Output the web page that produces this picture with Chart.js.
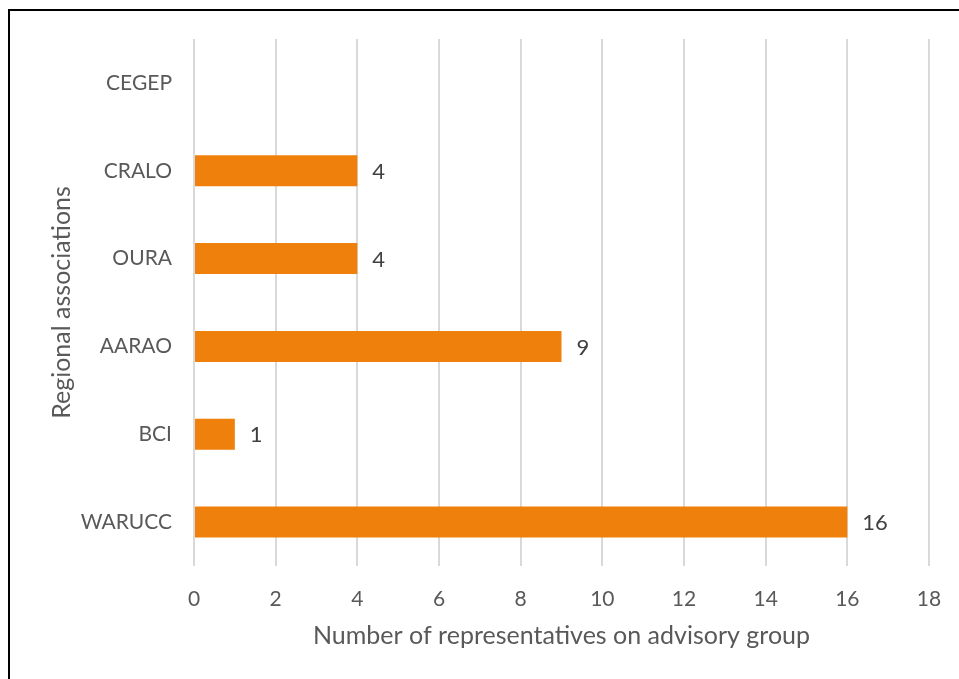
<!DOCTYPE html>
<html>
<head>
<meta charset="utf-8">
<script src="https://cdn.jsdelivr.net/npm/chart.js@4"></script>
<style>
  html, body { margin:0; padding:0; background:#fff; overflow:hidden; }
  #wrap { position:relative; width:959px; height:679px; }
  #c { position:absolute; left:0; top:0; }
  #frame { position:absolute; left:8px; top:9px; width:1000px; height:1000px;
           border-top:2px solid #000; border-left:2px solid #000; pointer-events:none; }
</style>
</head>
<body>
<div id="wrap">
  <canvas id="c" width="959" height="679"></canvas>
  <div id="frame"></div>
</div>
<script>
const categories = ["CEGEP", "CRALO", "OURA", "AARAO", "BCI", "WARUCC"];
const representatives = [null, 4, 4, 9, 1, 16];
const xTicks = [0, 2, 4, 6, 8, 10, 12, 14, 16, 18];
const xTitle = "Number of representatives on advisory group";
const yTitle = "Regional associations";

const FONT = "Lato, Calibri, Carlito, sans-serif";

const valueLabels = {
  id: 'valueLabels',
  afterDatasetsDraw(chart) {
    const ctx = chart.ctx;
    const meta = chart.getDatasetMeta(0);
    ctx.save();
    ctx.font = "22px " + FONT;
    ctx.fillStyle = "#404040";
    ctx.textAlign = "left";
    ctx.textBaseline = "middle";
    meta.data.forEach((bar, i) => {
      const v = chart.data.datasets[0].data[i];
      if (v === null || v === undefined) return;
      ctx.fillText(String(v), bar.x + 15, bar.y + 1);
    });
    ctx.restore();
  }
};

new Chart(document.getElementById('c'), {
  type: 'bar',
  data: {
    labels: categories,
    datasets: [{
      data: representatives,
      backgroundColor: '#EF800B',
      borderWidth: 0,
      barPercentage: 0.353,
      categoryPercentage: 1
    }]
  },
  options: {
    indexAxis: 'y',
    responsive: false,
    animation: false,
    devicePixelRatio: 1,
    layout: { padding: { top: 39, right: 30, left: 40, bottom: 0 } },
    plugins: { legend: { display: false }, tooltip: { enabled: false } },
    scales: {
      x: {
        min: 0, max: 18,
        afterBuildTicks(scale) { scale.ticks = xTicks.map(v => ({ value: v })); },
        afterFit(scale) { scale.height = 113; },
        grid: { color: '#d9d9d9', lineWidth: 2, drawTicks: true, tickLength: 18,
                tickColor: 'rgba(0,0,0,0)' },
        border: { display: false },
        ticks: { color: '#595959', font: { family: FONT, size: 21 }, padding: 3 },
        title: { display: true, text: xTitle, color: '#595959',
                 font: { family: FONT, size: 25 }, padding: { top: 6, bottom: 28 } }
      },
      y: {
        afterFit(scale) { scale.width = 194 - 40; },
        grid: { display: false, drawTicks: false },
        border: { display: false },
        ticks: { color: '#595959', font: { family: FONT, size: 21 }, padding: 22 },
        title: { display: true, text: yTitle, color: '#595959',
                 font: { family: FONT, size: 25 }, padding: { top: 7, bottom: 0 } }
      }
    }
  },
  plugins: [valueLabels]
});
</script>
</body>
</html>
